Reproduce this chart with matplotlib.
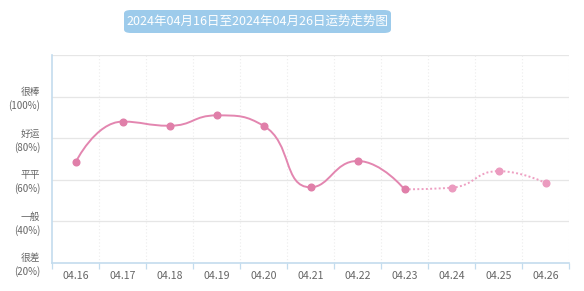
import numpy as np
import matplotlib.pyplot as plt
from matplotlib.path import Path
from matplotlib.patches import PathPatch, FancyBboxPatch

plt.rcParams['font.family'] = ['Noto Sans CJK SC', 'DejaVu Sans']

dates = ['04.16', '04.17', '04.18', '04.19', '04.20', '04.21',
         '04.22', '04.23', '04.24', '04.25', '04.26']
scores = [68.3, 88.0, 86.0, 91.0, 86.0, 56.3, 69.0, 55.3, 56.1, 64.1, 58.4]
past_end = 7  # 04.23 is the last solid point, the rest is forecast (dotted)
level_vals = [20, 40, 60, 80, 100]
level_names = ['很差', '一般', '平平', '好运', '很棒']
title = '2024年04月16日至2024年04月26日运势走势图'

W, H = 584, 291
fig = plt.figure(figsize=(W / 100, H / 100), dpi=100)
ax = fig.add_axes([52 / W, 1 - 262.5 / H, 517 / W, (262.5 - 55.3) / H])

ax.set_xlim(-0.5, len(dates) - 0.5)
ax.set_ylim(20, 120)

# pixel scale, used for the echarts-like smoothing
sx = 517 / len(dates)
sy = (262.5 - 55.3) / 100


def smooth_path(xs, ys, smooth=0.5):
    # echarts style bezier smoothing with bounding box constraint (pixel space)
    px = np.asarray(xs, float) * sx
    py = np.asarray(ys, float) * sy
    n = len(px)
    verts = [(px[0], py[0])]
    codes = [Path.MOVETO]
    cpx0, cpy0 = px[0], py[0]
    for i in range(1, n):
        x, y = px[i], py[i]
        if i == n - 1:
            cpx1, cpy1 = x, y
            nx0, ny0 = x, y
        else:
            prx, pry = px[i - 1], py[i - 1]
            nxx, nxy = px[i + 1], py[i + 1]
            vx, vy = nxx - prx, nxy - pry
            lp = np.hypot(x - prx, y - pry)
            ln = np.hypot(nxx - x, nxy - y)
            r = ln / (ln + lp)
            nx0 = x + vx * smooth * r
            ny0 = y + vy * smooth * r
            nx0 = min(max(nx0, min(nxx, x)), max(nxx, x))
            ny0 = min(max(ny0, min(nxy, y)), max(nxy, y))
            vx, vy = nx0 - x, ny0 - y
            cpx1 = x - vx * lp / ln
            cpy1 = y - vy * lp / ln
            cpx1 = min(max(cpx1, min(prx, x)), max(prx, x))
            cpy1 = min(max(cpy1, min(pry, y)), max(pry, y))
            vx, vy = x - cpx1, y - cpy1
            nx0 = x + vx * ln / lp
            ny0 = y + vy * ln / lp
        verts += [(cpx0, cpy0), (cpx1, cpy1), (x, y)]
        codes += [Path.CURVE4] * 3
        cpx0, cpy0 = nx0, ny0
    verts = [(vx_ / sx, vy_ / sy) for vx_, vy_ in verts]
    return Path(verts, codes)


x = np.arange(len(dates))
solid_col = '#e386b0'
light_col = '#ee9fc2'

ax.add_patch(PathPatch(smooth_path(x[:past_end + 1], scores[:past_end + 1]),
                       fill=False, edgecolor=solid_col, lw=1.4, zorder=3))
ax.add_patch(PathPatch(smooth_path(x[past_end:], scores[past_end:]),
                       fill=False, edgecolor=light_col, lw=1.4,
                       linestyle=(0, (1, 1.2)), zorder=3))
ax.plot(x[:past_end + 1], scores[:past_end + 1], 'o', color='#e07fa9',
        ms=4.8, zorder=4)
ax.plot(x[past_end + 1:], scores[past_end + 1:], 'o', color='#eb9bbf',
        ms=4.8, zorder=4)

# grid
for v in [40, 60, 80, 100, 120]:
    ax.axhline(v, color='#e6e6e6', lw=0.9, zorder=1)
for b in np.arange(0.5, len(dates), 1.0):
    ax.axvline(b, color='#ececec', lw=0.8, linestyle=(0, (1, 2)), zorder=1)

ax.set_xticks(x)
ax.set_xticklabels(dates, fontsize=7.6, color='#666666')
ax.tick_params(axis='x', length=0, pad=6)
ax.set_xticks(np.arange(-0.5, len(dates), 1.0), minor=True)
ax.tick_params(axis='x', which='minor', length=4, width=0.9,
               color='#c3dcee', direction='out')

ax.set_yticks(level_vals)
ax.set_yticklabels([f'{n}\n({v}%)' for n, v in zip(level_names, level_vals)],
                   fontsize=7, color='#666666', linespacing=1.35)
ax.tick_params(axis='y', length=0, pad=8.5)

for s in ['top', 'right']:
    ax.spines[s].set_visible(False)
for s in ['left', 'bottom']:
    ax.spines[s].set_color('#c3dcee')
    ax.spines[s].set_linewidth(1.2)

# title badge
fig.patches.append(FancyBboxPatch((124 / W, 1 - 33 / H), 267 / W, 23 / H,
                                  boxstyle='round,pad=0,rounding_size=0.012',
                                  transform=fig.transFigure,
                                  facecolor='#9dcbeb', edgecolor='none'))
fig.text(257.5 / W, 1 - 21 / H, title, ha='center', va='center',
         fontsize=9, color='white')

fig.savefig('out.png', dpi=100)
